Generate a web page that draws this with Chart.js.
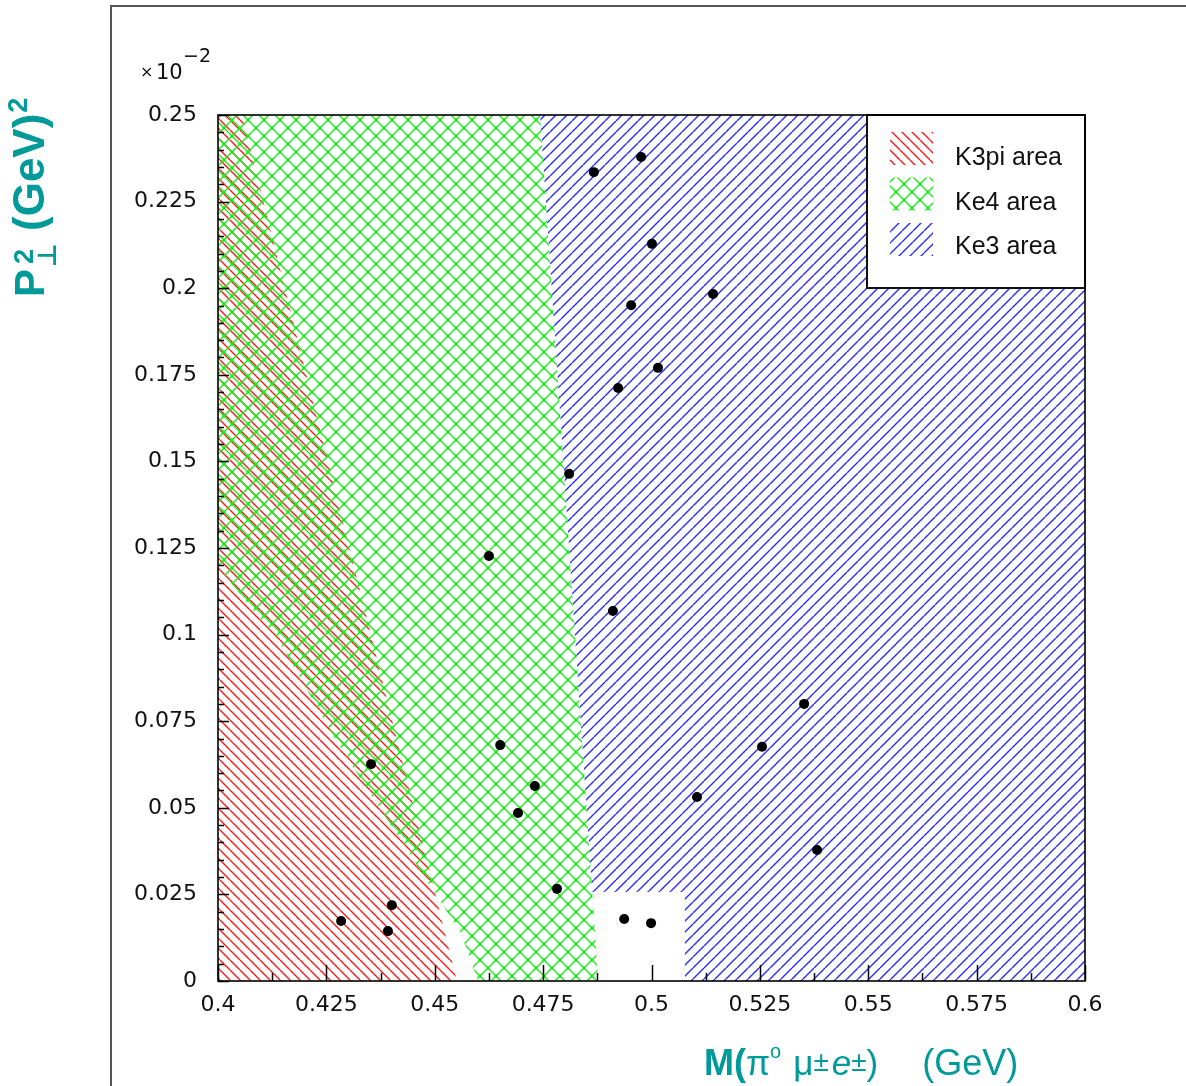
<!DOCTYPE html>
<html>
<head>
<meta charset="utf-8">
<script src="https://cdn.jsdelivr.net/npm/chart.js@4.4.0/dist/chart.umd.min.js"></script>
<style>
  html, body { margin: 0; padding: 0; background: #fff; }
  #wrap { width: 1186px; height: 1086px; }
</style>
</head>
<body>
<div id="wrap"><canvas id="chart" width="1186" height="1086"></canvas></div>
<script>
/***** Data *****/
// Events: invariant mass (GeV) vs transverse momentum squared (x 10^-2 GeV^2)
const massX = [0.4867, 0.4976, 0.5001, 0.4953, 0.5142, 0.5015, 0.4923, 0.4810,
  0.4625, 0.4911, 0.5352, 0.5255, 0.4651, 0.4731, 0.4692, 0.5105, 0.5382,
  0.4782, 0.4353, 0.4284, 0.4401, 0.4392, 0.4937, 0.4999];
const ptSqY = [0.2335, 0.2379, 0.2128, 0.1951, 0.1983, 0.1770, 0.1712, 0.1464,
  0.1227, 0.1068, 0.0800, 0.0676, 0.0681, 0.0563, 0.0485, 0.0531, 0.0378,
  0.0266, 0.0626, 0.0173, 0.0219, 0.0144, 0.0179, 0.0167];

// Area outlines (polygons in data units)
const k3piX = [0.4, 0.4055, 0.4551, 0.4];
const k3piY = [0.25, 0.25, 0, 0];
const ke4X = [0.4, 0.4743, 0.4810, 0.4877, 0.4600, 0.4560, 0.4436, 0.4281, 0.4143, 0.4];
const ke4Y = [0.25, 0.25, 0.125, 0, 0, 0.0139, 0.0378, 0.0676, 0.0976, 0.1195];
const ke3X = [0.4743, 0.6, 0.6, 0.5077, 0.5077, 0.4863, 0.4810];
const ke3Y = [0.25, 0.25, 0, 0, 0.0257, 0.0257, 0.125];

const legendLabels = ["K3pi area", "Ke4 area", "Ke3 area"];

// Axis ticks
const xTicks = [0.4, 0.425, 0.45, 0.475, 0.5, 0.525, 0.55, 0.575, 0.6];
const xTickLabels = ["0.4", "0.425", "0.45", "0.475", "0.5", "0.525", "0.55", "0.575", "0.6"];
const yTicks = [0, 0.025, 0.05, 0.075, 0.1, 0.125, 0.15, 0.175, 0.2, 0.225, 0.25];
const yTickLabels = ["0", "0.025", "0.05", "0.075", "0.1", "0.125", "0.15", "0.175", "0.2", "0.225", "0.25"];

const TEAL = "#009a9a";

/***** Helpers *****/
// Hatch pattern tile: "\\" lines, "/" lines, or both
const makeHatch = (ctx, color, size, dirs, dots) => {
  const c = document.createElement("canvas");
  c.width = size;
  c.height = size;
  const g = c.getContext("2d");
  g.strokeStyle = color;
  g.lineWidth = 1.4;
  for (let k = -1; k <= 1; k++) {
    if (dirs.includes("\\")) {
      g.beginPath();
      g.moveTo(k * size, 0);
      g.lineTo(k * size + size, size);
      g.stroke();
    }
    if (dirs.includes("/")) {
      g.beginPath();
      g.moveTo(k * size, size);
      g.lineTo(k * size + size, 0);
      g.stroke();
    }
  }
  if (dots) {
    g.fillStyle = color;
    const pts = [[0, 0], [size, 0], [0, size], [size, size], [size / 2, size / 2]];
    pts.forEach(([px, py]) => g.fillRect(px - 1.5, py - 1.5, 3, 3));
  }
  return ctx.createPattern(c, "repeat");
};

const fillArea = (chart, xs, ys, pattern) => {
  const { ctx, scales } = chart;
  ctx.beginPath();
  xs.forEach((v, i) => {
    const px = scales.x.getPixelForValue(v);
    const py = scales.y.getPixelForValue(ys[i]);
    if (i === 0) ctx.moveTo(px, py);
    else ctx.lineTo(px, py);
  });
  ctx.closePath();
  ctx.fillStyle = pattern;
  ctx.fill();
};

let patterns = null;
const getPatterns = (ctx) => {
  if (!patterns) {
    patterns = {
      red: makeHatch(ctx, "rgb(255,25,25)", 10, "\\", false),
      green: makeHatch(ctx, "rgb(30,235,30)", 16, "\\/", true),
      blue: makeHatch(ctx, "rgb(45,45,255)", 11, "/", false),
    };
  }
  return patterns;
};

/***** Plugin: areas, frame, legend, titles *****/
const areasPlugin = {
  id: "areas",
  beforeDatasetsDraw: (chart) => {
    const { ctx, chartArea } = chart;
    const p = getPatterns(ctx);
    ctx.save();
    ctx.beginPath();
    ctx.rect(chartArea.left, chartArea.top, chartArea.right - chartArea.left, chartArea.bottom - chartArea.top);
    ctx.clip();
    fillArea(chart, k3piX, k3piY, p.red);
    fillArea(chart, ke3X, ke3Y, p.blue);
    fillArea(chart, ke4X, ke4Y, p.green);
    ctx.restore();
  },
  afterDatasetsDraw: (chart) => {
    const { ctx, chartArea, scales } = chart;
    const p = getPatterns(ctx);
    const { left, right, top, bottom } = chartArea;
    ctx.save();

    // Legend box (top right corner of the plot)
    const lw = 218, lh = 173;
    const lx = right - lw;
    ctx.fillStyle = "#fff";
    ctx.fillRect(lx, top, lw, lh);
    ctx.strokeStyle = "#111";
    ctx.lineWidth = 2;
    ctx.strokeRect(lx, top, lw, lh);
    const swatches = [p.red, p.green, p.blue];
    legendLabels.forEach((label, i) => {
      const sy = top + 17 + i * 45.5;
      ctx.fillStyle = swatches[i];
      ctx.fillRect(lx + 23, sy, 43, 33);
      ctx.fillStyle = "#111";
      ctx.font = "25px 'Liberation Sans', Arial, sans-serif";
      ctx.textAlign = "left";
      ctx.textBaseline = "alphabetic";
      ctx.fillText(label, lx + 88, top + 50 + i * 44.5);
    });

    // Plot frame
    ctx.strokeStyle = "#000";
    ctx.lineWidth = 1.6;
    ctx.strokeRect(left, top, right - left, bottom - top);

    // Tick marks (drawn inward)
    ctx.lineWidth = 1.5;
    ctx.beginPath();
    for (let v = 0; v <= 0.25 + 1e-9; v += 0.005) {
      const py = Math.round(scales.y.getPixelForValue(v)) + 0.5;
      const major = Math.abs(v / 0.025 - Math.round(v / 0.025)) < 1e-6;
      ctx.moveTo(left, py);
      ctx.lineTo(left + (major ? 11 : 6), py);
    }
    for (let v = 0.4; v <= 0.6 + 1e-9; v += 0.0125) {
      const px = Math.round(scales.x.getPixelForValue(v)) + 0.5;
      const major = Math.abs((v - 0.4) / 0.025 - Math.round((v - 0.4) / 0.025)) < 1e-6;
      ctx.moveTo(px, bottom);
      ctx.lineTo(px, bottom - (major ? 16 : 8));
    }
    ctx.stroke();
    ctx.restore();
  },
  afterDraw: (chart) => {
    const { ctx } = chart;
    ctx.save();

    // Outer pad frame
    ctx.strokeStyle = "#555";
    ctx.lineWidth = 2;
    ctx.beginPath();
    ctx.moveTo(111, 1090);
    ctx.lineTo(111, 6);
    ctx.lineTo(1190, 6);
    ctx.stroke();

    // Exponent label "x 10^-2"
    ctx.fillStyle = "#111";
    ctx.textAlign = "left";
    ctx.textBaseline = "alphabetic";
    ctx.font = "16px 'DejaVu Sans', sans-serif";
    ctx.fillText("\u00d7", 140, 77);
    ctx.font = "21px 'DejaVu Sans', sans-serif";
    ctx.fillText("10", 156, 79);
    ctx.font = "19px 'DejaVu Sans', sans-serif";
    ctx.fillText("\u22122", 183, 62);

    // X title
    ctx.fillStyle = TEAL;
    let x = 704;
    const base = 1075;
    const put = (text, font, dy) => {
      ctx.font = font;
      ctx.fillText(text, x, base + dy);
      x += ctx.measureText(text).width;
    };
    put("M(", "bold 36px 'Liberation Sans', Arial, sans-serif", 0);
    put("\u03c0", "35px 'Liberation Sans', Arial, sans-serif", 0);
    put("o", "20px 'Liberation Sans', Arial, sans-serif", -17);
    x += 12;
    put("\u03bc", "35px 'Liberation Sans', Arial, sans-serif", 0);
    put("\u00b1", "28px 'Liberation Sans', Arial, sans-serif", -4);
    x += 3;
    put("e", "italic 35px 'Liberation Sans', Arial, sans-serif", 0);
    put("\u00b1", "28px 'Liberation Sans', Arial, sans-serif", -4);
    put(")", "35px 'Liberation Sans', Arial, sans-serif", 0);
    x += 44;
    put("(GeV)", "36px 'Liberation Sans', Arial, sans-serif", 0);

    // Y title, rotated
    ctx.translate(44, 297);
    ctx.rotate(-Math.PI / 2);
    let t = 0;
    ctx.font = "bold 42px 'Liberation Sans', Arial, sans-serif";
    ctx.fillText("P", t, 0);
    t += ctx.measureText("P").width + 2;
    ctx.font = "bold 26px 'DejaVu Sans', sans-serif";
    ctx.fillText("\u22a5", t, 12);
    ctx.font = "bold 27px 'Liberation Sans', Arial, sans-serif";
    ctx.fillText("2", t + 3, -11);
    t += 36;
    ctx.font = "bold 44px 'Liberation Sans', Arial, sans-serif";
    ctx.fillText("(GeV)", t, 0);
    t += ctx.measureText("(GeV)").width + 1;
    ctx.font = "bold 27px 'Liberation Sans', Arial, sans-serif";
    ctx.fillText("2", t, -17);

    ctx.restore();
  },
};

/***** Chart *****/
const points = massX.map((m, i) => ({ x: m, y: ptSqY[i] }));

new Chart(document.querySelector("#chart"), {
  type: "scatter",
  data: {
    datasets: [
      {
        data: points,
        pointRadius: 5,
        pointHoverRadius: 5,
        backgroundColor: "#000",
        borderColor: "#000",
        borderWidth: 0,
      },
    ],
  },
  options: {
    responsive: false,
    animation: false,
    devicePixelRatio: 1,
    layout: { padding: { left: 0, top: 115, right: 101, bottom: 0 } },
    plugins: { legend: { display: false }, tooltip: { enabled: false } },
    scales: {
      x: {
        type: "linear",
        min: 0.4,
        max: 0.6,
        grid: { display: false, drawTicks: false },
        border: { display: false },
        afterFit: (scale) => { scale.height = 105; },
        afterBuildTicks: (scale) => { scale.ticks = xTicks.map((v) => ({ value: v })); },
        ticks: {
          padding: 11,
          color: "#111",
          font: { family: "'DejaVu Sans', sans-serif", size: 22 },
          maxRotation: 0,
          callback: (v) => xTickLabels[xTicks.findIndex((t) => Math.abs(t - v) < 1e-9)],
        },
      },
      y: {
        type: "linear",
        min: 0,
        max: 0.25,
        grid: { display: false, drawTicks: false },
        border: { display: false },
        afterFit: (scale) => { scale.width = 218; },
        afterBuildTicks: (scale) => { scale.ticks = yTicks.map((v) => ({ value: v })); },
        ticks: {
          padding: 21,
          color: "#111",
          font: { family: "'DejaVu Sans', sans-serif", size: 22 },
          callback: (v) => yTickLabels[yTicks.findIndex((t) => Math.abs(t - v) < 1e-9)],
        },
      },
    },
  },
  plugins: [areasPlugin],
});
</script>
</body>
</html>
